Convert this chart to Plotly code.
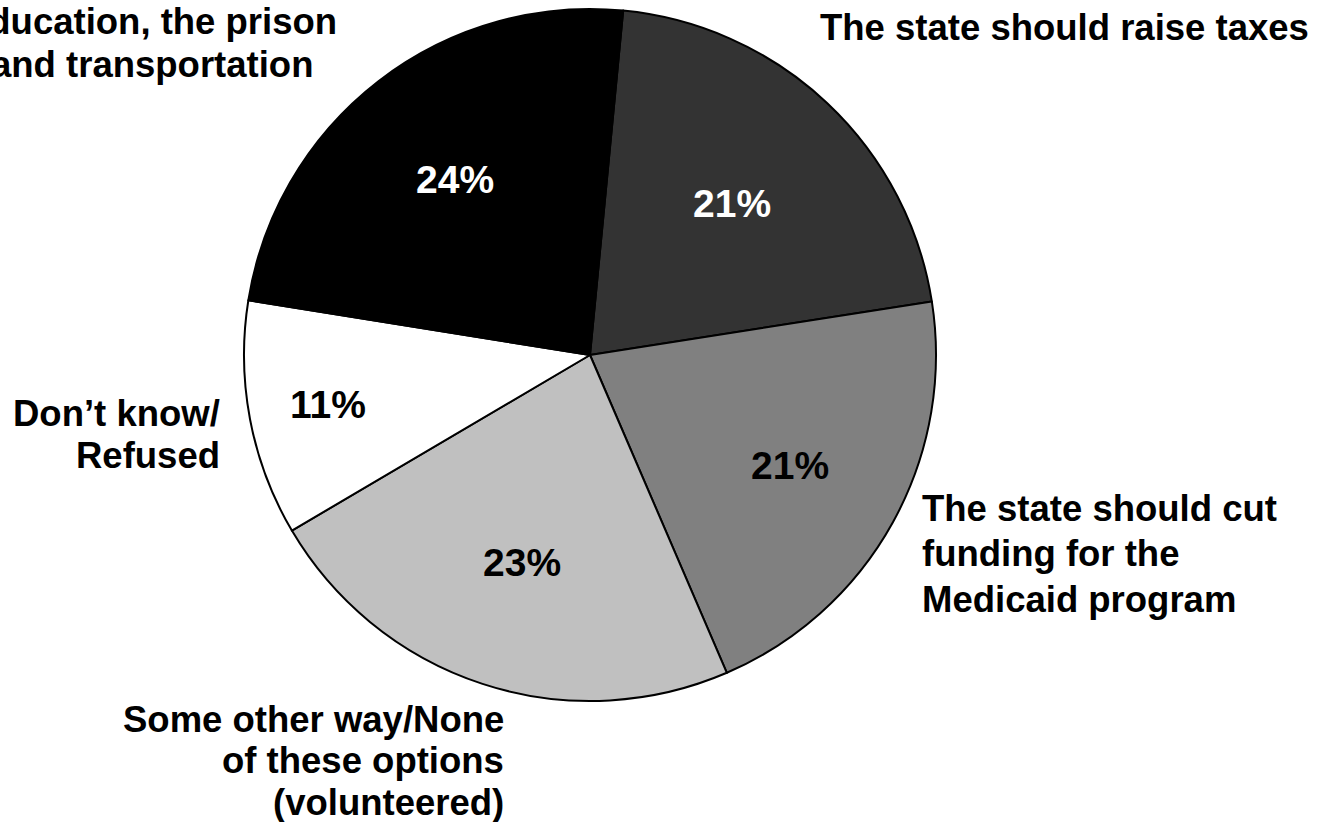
import math
import plotly.graph_objects as go

# ---- data ----
categories = [
    "The state should raise taxes",
    "The state should cut funding for the Medicaid program",
    "Some other way/None of these options (volunteered)",
    "Don’t know/Refused",
    "The state should cut funding for education, the prison and transportation",
]
values = [21, 21, 23, 11, 24]
pct_labels = ["21%", "21%", "23%", "11%", "24%"]
label_lines = [
    ["The state should raise taxes"],
    ["The state should cut", "funding for the", "Medicaid program"],
    ["Some other way/None", "of these options", "(volunteered)"],
    ["Don’t know/", "Refused"],
    ["education, the prison", "and transportation"],
]

# ---- style ----
colors = ["#333333", "#808080", "#c0c0c0", "#ffffff", "#000000"]
pct_colors = ["white", "black", "black", "black", "white"]
pct_radius = [0.60, 0.66, 0.63, 0.77, 0.64]
W, H = 1321, 822
CX, CY, R = 590, 355, 346
ROT = 5.5
FONT = "Liberation Sans, Arial, sans-serif"

# outside label placement (pixel anchor, alignment, first line centre, line spacing)
label_pos = [
    dict(x=818, y=28, anchor="left", gap=42),
    dict(x=920, y=508, anchor="left", gap=45.5),
    dict(x=506, y=719, anchor="right", gap=41.5),
    dict(x=222, y=413, anchor="right", gap=42),
    dict(x=152, y=22, anchor="center", gap=43),
]

fig = go.Figure(go.Pie(
    labels=categories,
    values=values,
    sort=False,
    direction="clockwise",
    rotation=ROT,
    marker=dict(colors=colors, line=dict(color="black", width=2)),
    textinfo="none",
    showlegend=False,
    domain=dict(x=[(CX - R) / W, (CX + R) / W],
                y=[(H - CY - R) / H, (H - CY + R) / H]),
))

annotations = []
total = sum(values)
start = ROT
for v, txt, col, rf in zip(values, pct_labels, pct_colors, pct_radius):
    mid = math.radians(start + v / total * 180)
    start += v / total * 360
    px = CX + R * rf * math.sin(mid)
    py = CY - R * rf * math.cos(mid)
    annotations.append(dict(
        x=px / W, y=1 - py / H, xref="paper", yref="paper",
        text=f"<b>{txt}</b>", showarrow=False,
        xanchor="center", yanchor="middle",
        font=dict(family=FONT, size=39, color=col),
    ))

for lines, pos in zip(label_lines, label_pos):
    for i, line in enumerate(lines):
        py = pos["y"] + i * pos["gap"]
        annotations.append(dict(
            x=pos["x"] / W, y=1 - py / H, xref="paper", yref="paper",
            text=f"<b>{line}</b>", showarrow=False,
            xanchor=pos["anchor"], yanchor="middle", align=pos["anchor"],
            font=dict(family=FONT, size=36.5, color="black"),
        ))

fig.update_layout(
    width=W, height=H,
    margin=dict(l=0, r=0, t=0, b=0),
    paper_bgcolor="white",
    plot_bgcolor="white",
    annotations=annotations,
)

fig.write_html(
    "out.html",
    config={"displayModeBar": False},
    post_script="document.body.style.margin='0';document.body.style.overflow='hidden';",
)
